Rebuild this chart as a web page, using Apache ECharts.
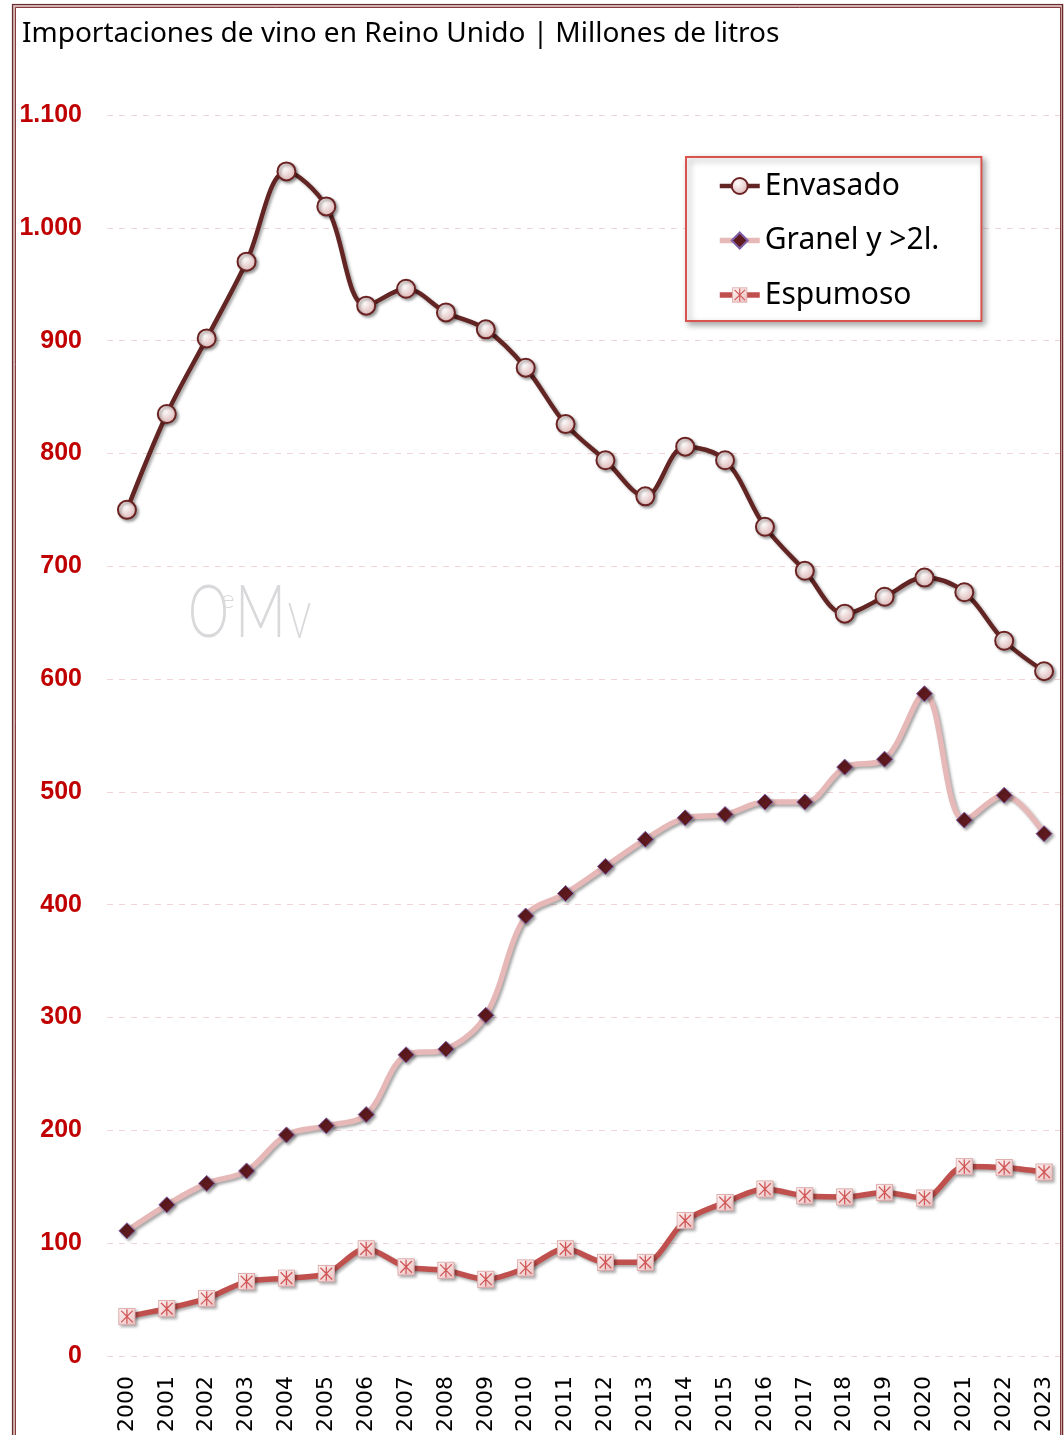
<!DOCTYPE html>
<html>
<head>
<meta charset="utf-8">
<script src="https://cdn.jsdelivr.net/npm/echarts@6/dist/echarts.min.js"></script>
<style>
html,body{margin:0;padding:0;background:#fff;}
#chart{width:1064px;height:1435px;}
</style>
</head>
<body>
<div id="chart"></div>
<script>
const years = ['2000','2001','2002','2003','2004','2005','2006','2007','2008','2009','2010','2011','2012','2013','2014','2015','2016','2017','2018','2019','2020','2021','2022','2023'];
const envasado = [750,835,902,970,1050,1019,931,946,925,910,876,826,794,762,806,794,735,696,658,673,690,677,634,607];
const granel = [111,134,153,164,196,204,214,267,272,302,390,410,434,458,477,480,491,491,522,529,587,475,497,463];
const espumoso = [35,42,51,66,69,73,95,79,76,68,78,95,83,83,120,136,148,142,141,145,140,168,167,163];
const seriesNames = ['Envasado','Granel y >2l.','Espumoso'];
const titleText = 'Importaciones de vino en Reino Unido | Millones de litros';

const svgStar = "<svg xmlns='http://www.w3.org/2000/svg' width='20' height='20'>" +
  "<defs><linearGradient id='g' x1='0' y1='0' x2='1' y2='1'><stop offset='0' stop-color='#FDF2F2'/><stop offset='1' stop-color='#EBC0C0'/></linearGradient></defs>" +
  "<rect x='1' y='1' width='18' height='18' fill='url(#g)' stroke='#DDA8A8' stroke-width='1'/>" +
  "<path d='M10 2V18M3.5 3.5L16.5 16.5M16.5 3.5L3.5 16.5' stroke='#D05555' stroke-width='1.4' fill='none'/></svg>";
const starSymbol = 'image://data:image/svg+xml;charset=utf-8,' + encodeURIComponent(svgStar);

const chart = echarts.init(document.getElementById('chart'));
const shadow = {shadowColor:'rgba(0,0,0,0.35)', shadowBlur:3, shadowOffsetX:2, shadowOffsetY:2};
const wm = '#D9D9DC';

chart.setOption({
  animation:false,
  backgroundColor:'#fff',
  title:{
    text:titleText, left:17, top:15,
    textStyle:{fontFamily:'Noto Sans', fontSize:28, fontWeight:'normal', color:'#000'}
  },
  graphic:[
    {type:'rect', shape:{x:13.75,y:5.5,width:1048,height:1440}, style:{fill:'none', stroke:'#D2B4B4', lineWidth:3.5}, silent:true, z:100},
    {type:'rect', shape:{x:12.5,y:4.5,width:1050,height:1440}, style:{fill:'none', stroke:'#6B2A2A', lineWidth:1.2}, silent:true, z:101},
    {type:'rect', shape:{x:15.5,y:7.5,width:1045,height:1440}, style:{fill:'none', stroke:'#8A3A3A', lineWidth:1}, silent:true, z:101},
    {type:'text', x:188, y:578, scaleX:0.72, style:{text:'O', font:'300 72px Lato', fill:wm}, silent:true, z:0},
    {type:'text', x:221, y:587, style:{text:'e', font:'300 26px Lato', fill:wm}, silent:true, z:0},
    {type:'text', x:235, y:578, scaleX:0.78, style:{text:'M', font:'300 72px Lato', fill:wm}, silent:true, z:0},
    {type:'text', x:288, y:597, scaleX:0.7, style:{text:'V', font:'300 50px Lato', fill:wm}, silent:true, z:0}
  ],
  legend:{
    orient:'vertical', left:686, top:157,
    padding:[12,42,9,31],
    itemWidth:40, itemHeight:20, itemGap:20.5,
    backgroundColor:'#fff', borderColor:'#D9534F', borderWidth:2,
    shadowColor:'rgba(0,0,0,0.35)', shadowBlur:6, shadowOffsetX:3, shadowOffsetY:3,
    lineStyle:{width:'inherit'},
    textStyle:{fontFamily:'Noto Sans', fontSize:30, lineHeight:34, color:'#000'},
    data:seriesNames
  },
  grid:{left:107, right:0, top:115, bottom:77},
  xAxis:{
    type:'category', data:years, boundaryGap:true,
    axisLine:{show:false}, axisTick:{show:false},
    axisLabel:{rotate:90, margin:20, fontFamily:'DejaVu Sans', fontSize:22, color:'#000', interval:0}
  },
  yAxis:{
    type:'value', min:0, max:1100, interval:100,
    axisLine:{show:false}, axisTick:{show:false},
    splitLine:{lineStyle:{color:'#F3D5D5', type:[6,6], width:1}},
    axisLabel:{margin:25, color:'#C00000', fontWeight:'bold', fontSize:25, fontFamily:'Liberation Sans',
      formatter:v => v >= 1000 ? Math.floor(v/1000) + '.' + String(v%1000).padStart(3,'0') : String(v)}
  },
  series:[
    {
      name:seriesNames[0], type:'line', data:envasado, smooth:0.35,
      symbol:'circle', symbolSize:18,
      lineStyle:{color:'#632523', width:4.5, ...shadow},
      itemStyle:{
        color:{type:'radial', x:0.4, y:0.35, r:0.75, colorStops:[{offset:0,color:'#FFFFFF'},{offset:1,color:'#D8AAAA'}]},
        borderColor:'#6B2222', borderWidth:2, ...shadow
      },
      z:4
    },
    {
      name:seriesNames[1], type:'line', data:granel, smooth:0.35,
      symbol:'diamond', symbolSize:16,
      lineStyle:{color:'#E6B8B7', width:5.5, ...shadow},
      itemStyle:{color:'#5E1A1E', borderColor:'#7E5FA8', borderWidth:1, ...shadow},
      z:3
    },
    {
      name:seriesNames[2], type:'line', data:espumoso, smooth:0.3,
      symbol:starSymbol, symbolSize:18,
      lineStyle:{color:'#C0504D', width:5.5, ...shadow},
      itemStyle:{color:'#C0504D', ...shadow},
      z:2
    }
  ]
});
</script>
</body>
</html>
